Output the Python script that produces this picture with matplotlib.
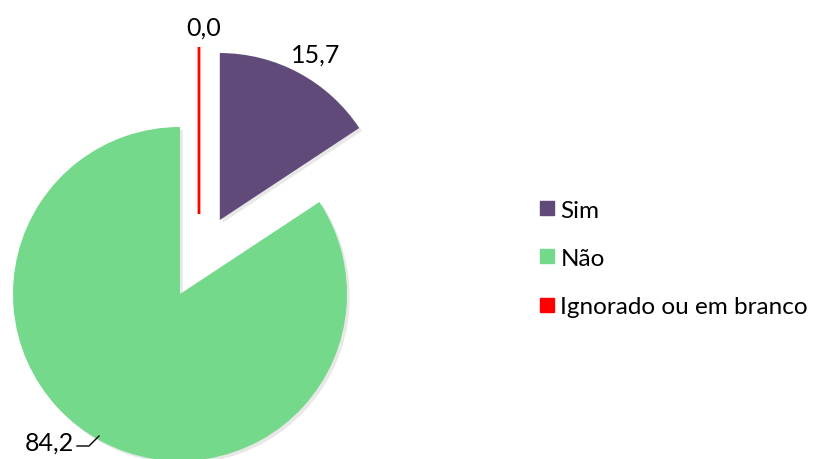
import matplotlib.pyplot as plt
from matplotlib.lines import Line2D

categories = ["Sim", "Não", "Ignorado ou em branco"]
values = [15.7, 84.2, 0.0]
colors = ["#5f4a7a", "#74d98b", "#ff0000"]

plt.rcParams['font.family'] = ['Lato', 'DejaVu Sans']

fig = plt.figure(figsize=(8.16, 4.6), dpi=100)
ax = fig.add_axes([0, 0, 1, 1])

center = (180, 165)
radius = 167
wedges, _ = ax.pie(values, colors=colors, startangle=90, counterclock=False,
                   explode=[84, 0, 80], radius=radius, center=center,
                   frame=True, wedgeprops=dict(linewidth=0),
                   shadow=dict(ox=2, oy=-2, facecolor='0.4', edgecolor='none', alpha=0.15))
ax.set_xlim(0, 816)
ax.set_ylim(0, 460)
ax.set_aspect('equal')
ax.axis('off')
# zero slice shown as a red line
wedges[2].set_edgecolor(colors[2])
wedges[2].set_linewidth(2)
wedges[2].set_center((center[0] + 19, center[1] + 80))

def fmt(v):
    return f"{v:.1f}".replace(".", ",")

ax.text(316, 405, fmt(values[0]), fontsize=18, ha='center', va='center')
ax.text(204, 432, fmt(values[2]), fontsize=18, ha='center', va='center')
ax.text(49, 17, fmt(values[1]), fontsize=18, ha='center', va='center')
ax.plot([77, 89, 99], [13, 13, 23], color='black', lw=1)

handles = [Line2D([], [], marker='s', linestyle='none', markersize=10.5,
                  markerfacecolor=c, markeredgecolor=c) for c in colors]
fig.legend(handles, categories, loc='center left', bbox_to_anchor=(0.630, 0.436),
           frameon=False, fontsize=17.5, labelspacing=1.12, handletextpad=0.1,
           handlelength=0.9)

fig.savefig("out.png", dpi=100)
